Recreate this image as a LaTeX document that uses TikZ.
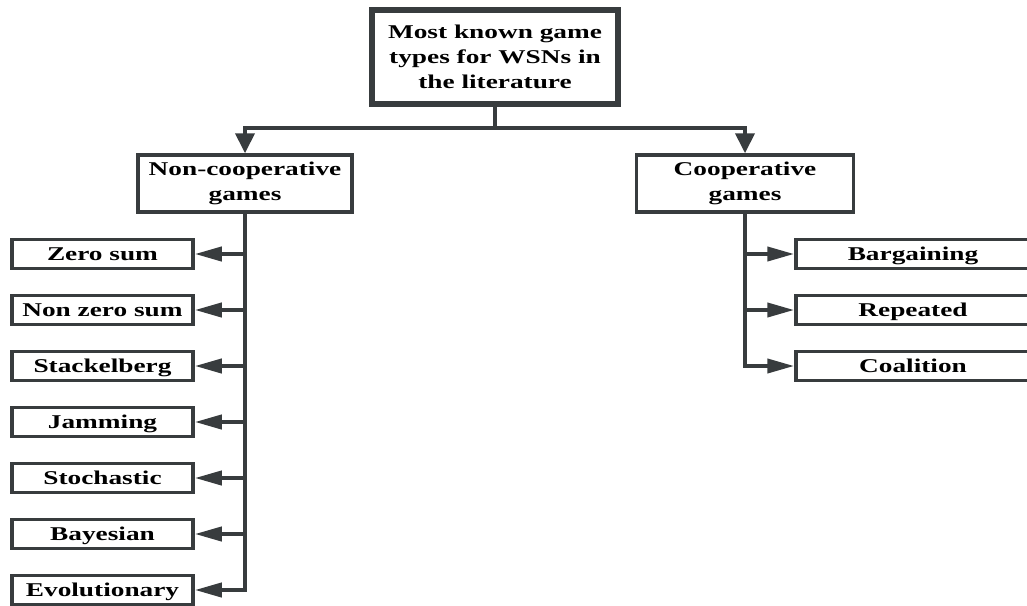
\documentclass[tikz,border=0pt]{standalone}
\usepackage{fontspec}
\setmainfont{Liberation Serif}[FakeStretch=1.4]
\usetikzlibrary{arrows.meta,%
                positioning}
\definecolor{edgegray}{RGB}{56,60,62}

\begin{document}
\begin{tikzpicture}[x=1pt, y=1pt]
  \tikzset{BoxStyle/.style = {draw           = edgegray,
                              fill           = white,
                              text           = black,
                              line width     = 3.5pt,
                              inner sep      = 0pt,
                              align          = center,
                              font           = \fontsize{19.5}{25}\selectfont\bfseries},
           LeafStyle/.style = {BoxStyle, minimum width=181pt, minimum height=29pt, text height=15pt, text depth=3pt},
           RLeafStyle/.style = {LeafStyle, minimum width=234pt},
           HeadStyle/.style = {BoxStyle, minimum height=57pt},
           LinkStyle/.style = {draw=edgegray, line width=4pt},
           HArrow/.style = {LinkStyle, -{Triangle[length=27pt, width=14pt]}},
           VArrow/.style = {LinkStyle, {Triangle[length=20pt, width=19pt]}-{Triangle[length=20pt, width=19pt]}}}
  \useasboundingbox (0,0) rectangle (1027,-605);
  %%% RACINE %%%
  \node[BoxStyle, line width=6.5pt, minimum width=246pt, minimum height=94pt](root) at (495,-57){Most known game\\types for WSNs in\\the literature};
  \node[HeadStyle, minimum width=214pt](ncoop) at (245,-183.5){Non-cooperative\\games};
  \node[HeadStyle, minimum width=217pt](coop) at (745,-183.5){Cooperative\\games};
  \coordinate[below=21pt of root.south](split);
  \draw[LinkStyle](root.south) -- (split);
  \draw[VArrow](ncoop.north) -- (ncoop.north |- split) -- (coop.north |- split) -- (coop.north);
  %%% GAUCHE %%%
  \tikzset{node distance = 23.5pt}
  \node[LeafStyle](zero) at (102.5,-254){Zero sum};
  \node[LeafStyle, below=of zero](nzero){Non zero sum};
  \node[LeafStyle, below=of nzero](stack){Stackelberg};
  \node[LeafStyle, below=of stack](jam){Jamming};
  \node[LeafStyle, below=of jam](stoch){Stochastic};
  \node[LeafStyle, below=of stoch](bayes){Bayesian};
  \node[LeafStyle, below=of bayes](evol){Evolutionary};
  \draw[HArrow](ncoop.south) |- (evol.east);
  \draw[HArrow](ncoop.south |- zero) -- (zero.east);
  \draw[HArrow](ncoop.south |- nzero) -- (nzero.east);
  \draw[HArrow](ncoop.south |- stack) -- (stack.east);
  \draw[HArrow](ncoop.south |- jam) -- (jam.east);
  \draw[HArrow](ncoop.south |- stoch) -- (stoch.east);
  \draw[HArrow](ncoop.south |- bayes) -- (bayes.east);
  %%% DROITE %%%
  \node[RLeafStyle](barg) at (913,-254){Bargaining};
  \node[RLeafStyle, below=of barg](rep){Repeated};
  \node[RLeafStyle, below=of rep](coal){Coalition};
  \draw[HArrow](coop.south) |- (coal.west);
  \draw[HArrow](coop.south |- barg) -- (barg.west);
  \draw[HArrow](coop.south |- rep) -- (rep.west);
\end{tikzpicture}
\end{document}
